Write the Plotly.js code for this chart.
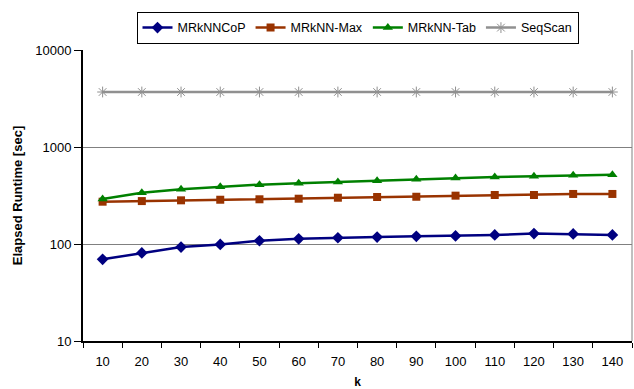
<!DOCTYPE html>
<html><head><meta charset="utf-8">
<script src="https://cdn.plot.ly/plotly-3.0.1.min.js"></script>
<style>html,body{margin:0;padding:0;background:#fff}#chart{width:634px;height:389px}</style>
</head><body><div id="chart"></div>
<script>
const kValues = ["10","20","30","40","50","60","70","80","90","100","110","120","130","140"];
const coP = [69.5,81,93,99,108,113,116,118,120,121,124,128,127,124];
const maxS = [273,277,282,286,289,293,300,305,307,315,320,320,328,328];
const tab = [291,338,366,390,409,422,436,449,465,479,491,499,511,518];
const seq = [3690,3690,3690,3690,3690,3690,3690,3690,3690,3690,3690,3690,3690,3690];
const yTicks = [10,100,1000,10000];

const f = "Liberation Sans, Arial, sans-serif";
const traces = [
 {name:"MRkNNCoP", x:kValues, y:coP, mode:"lines+markers", line:{color:"#000080",width:2.5}, marker:{symbol:"diamond",size:9,color:"#000080"}},
 {name:"MRkNN-Max", x:kValues, y:maxS, mode:"lines+markers", line:{color:"#993300",width:2.5}, marker:{symbol:"square",size:8,color:"#993300"}},
 {name:"MRkNN-Tab", x:kValues, y:tab, mode:"lines+markers", line:{color:"#008000",width:2.5}, marker:{symbol:"triangle-up",size:9,color:"#008000"}},
 {name:"SeqScan", x:kValues, y:seq, mode:"lines+markers", line:{color:"#909090",width:2.5}, marker:{symbol:"asterisk-open",size:9,color:"#909090",line:{color:"#909090",width:1}}}
];
const layout = {
 width:634, height:389, margin:{l:83,r:2,t:50,b:48,autoexpand:false},
 paper_bgcolor:"#fff", plot_bgcolor:"#fff",
 font:{family:f,size:13,color:"#000"},
 showlegend:true,
 legend:{orientation:"h", x:0.5, xanchor:"center", y:1.1306, yanchor:"top",
   bordercolor:"#000", borderwidth:1, font:{family:f,size:12.5}, tracegroupgap:0, itemwidth:30},
 xaxis:{type:"category", range:[-0.5,13.5], autorange:false, title:{text:"<b>k</b>",font:{family:f,size:12},standoff:13},
   showline:true, linecolor:"#000", linewidth:2, mirror:false, ticks:"outside", tickson:"boundaries",
   ticklen:5, tickcolor:"#000", ticklabelstandoff:7, showgrid:false, zeroline:false, tickfont:{family:f,size:13}},
 yaxis:{type:"log", range:[1,4], autorange:false, tickvals:yTicks, ticktext:yTicks.map(String),
   title:{text:"<b>Elapsed Runtime [sec]</b>",font:{family:f,size:13},standoff:10},
   showline:true, linecolor:"#000", linewidth:2, ticks:"outside", ticklen:7, tickcolor:"#000",
   showgrid:true, gridcolor:"#808080", gridwidth:1, zeroline:false, tickfont:{family:f,size:13}},
 shapes:[{type:"line",xref:"paper",yref:"paper",x0:1,x1:1,y0:0,y1:1,line:{color:"#808080",width:1}}]
};
Plotly.newPlot("chart", traces, layout, {displayModeBar:false, staticPlot:true});
</script></body></html>
